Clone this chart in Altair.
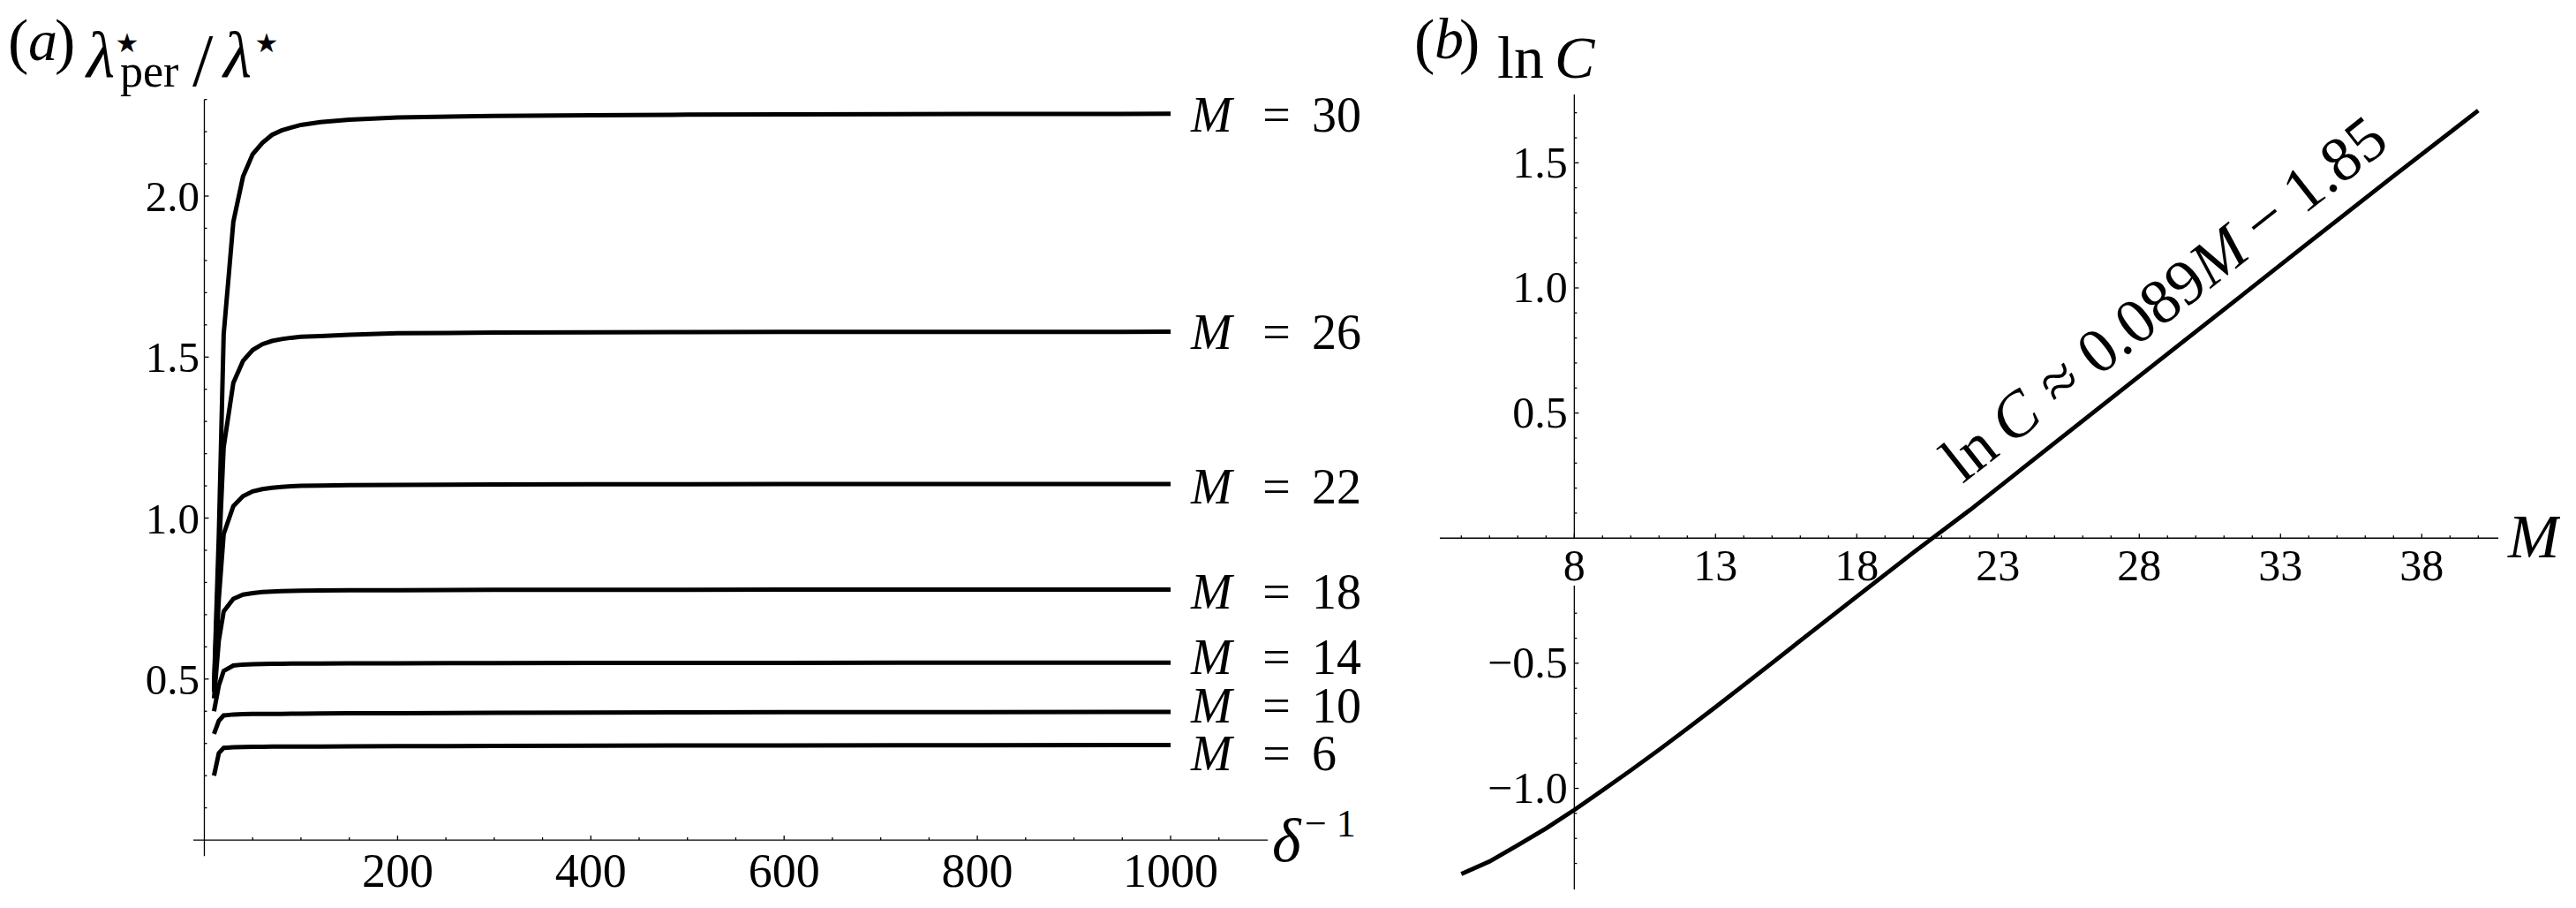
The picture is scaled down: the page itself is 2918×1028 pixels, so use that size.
import altair as alt
import pandas as pd

FONT = "Liberation Serif"
STAR_FONT = "DejaVu Sans"

# ---------------- panel (a): lambda*_per / lambda* versus 1/delta ----------------
DELTA_INV = [10, 15, 20, 30, 40, 50, 60, 70, 80, 90, 100, 120, 150, 200, 300, 400, 500, 600, 800, 1000]
RATIO_M6 = [0.20, 0.27, 0.286, 0.288, 0.289, 0.2893, 0.2896, 0.290, 0.290, 0.290, 0.2902, 0.2905, 0.291, 0.2915,
            0.292, 0.293, 0.2935, 0.294, 0.2945, 0.295]
RATIO_M10 = [0.33, 0.37, 0.387, 0.390, 0.391, 0.3915, 0.392, 0.392, 0.392, 0.3922, 0.3925, 0.393, 0.3935, 0.394,
             0.395, 0.396, 0.3965, 0.397, 0.3975, 0.398]
RATIO_M14 = [0.40, 0.48, 0.525, 0.542, 0.545, 0.546, 0.547, 0.5472, 0.5475, 0.5478, 0.548, 0.5482, 0.5485, 0.549,
             0.5495, 0.550, 0.5503, 0.5505, 0.551, 0.551]
RATIO_M18 = [0.44, 0.62, 0.71, 0.749, 0.762, 0.767, 0.770, 0.772, 0.773, 0.774, 0.7745, 0.775, 0.7755, 0.776,
             0.777, 0.7775, 0.7775, 0.778, 0.778, 0.778]
RATIO_M22 = [0.46, 0.75, 0.95, 1.037, 1.068, 1.083, 1.090, 1.094, 1.097, 1.099, 1.100, 1.101, 1.102, 1.103,
             1.104, 1.105, 1.105, 1.1055, 1.106, 1.106]
RATIO_M26 = [0.47, 0.88, 1.22, 1.42, 1.488, 1.522, 1.540, 1.550, 1.556, 1.560, 1.563, 1.565, 1.569, 1.574,
             1.576, 1.577, 1.5775, 1.578, 1.5784, 1.5786]
RATIO_M30 = [0.48, 0.95, 1.57, 1.92, 2.06, 2.13, 2.165, 2.19, 2.204, 2.213, 2.221, 2.230, 2.237, 2.244,
             2.249, 2.251, 2.253, 2.254, 2.255, 2.2555]
CURVE_M = [6, 10, 14, 18, 22, 26, 30]
CURVES = [RATIO_M6, RATIO_M10, RATIO_M14, RATIO_M18, RATIO_M22, RATIO_M26, RATIO_M30]
LABEL_Y = [0.2675, 0.417, 0.567, 0.771, 1.095, 1.575, 2.252]
LABEL_AT_X = 1000

A_XTICK_MAJOR = [200, 400, 600, 800, 1000]
A_XTICK_LABELS = ["200", "400", "600", "800", "1000"]
A_XTICK_MINOR = [50, 100, 150, 250, 300, 350, 450, 500, 550, 650, 700, 750, 850, 900, 950, 1050]
A_YTICK_MAJOR = [0.5, 1.0, 1.5, 2.0]
A_YTICK_LABELS = ["0.5", "1.0", "1.5", "2.0"]
A_YTICK_MINOR = [0.1, 0.2, 0.3, 0.4, 0.6, 0.7, 0.8, 0.9, 1.1, 1.2, 1.3, 1.4, 1.6, 1.7, 1.8, 1.9, 2.1, 2.2, 2.3]
A_XAXIS = [-11.4, 1100.5]
A_YAXIS = [-0.05, 2.30]
A_XDOMAIN = [-11.4, 1100.5]
A_YDOMAIN = [-0.052, 2.3155]

# ---------------- panel (b): ln C versus M ----------------
M_B = [4, 5, 6, 7, 8, 9, 10, 11, 12, 13, 14, 15, 16, 18, 20, 22, 25, 28, 31, 34, 37, 40]
LNC = [-1.342, -1.292, -1.227, -1.160, -1.086, -1.008, -0.928, -0.846, -0.761, -0.675, -0.587, -0.499,
       -0.410, -0.233, -0.058, 0.112, 0.380, 0.647, 0.914, 1.181, 1.447, 1.709]
FIT_SLOPE = 0.089
FIT_INTERCEPT = -1.85
FIT_LABEL_AT_M = 22.3

B_XTICK_MAJOR = [8, 13, 18, 23, 28, 33, 38]
B_XTICK_LABELS = ["8", "13", "18", "23", "28", "33", "38"]
B_XTICK_MINOR = [4, 5, 6, 7, 9, 10, 11, 12, 14, 15, 16, 17, 19, 20, 21, 22, 24, 25, 26, 27, 29, 30, 31, 32,
                 34, 35, 36, 37, 39, 40]
B_YTICK_MAJOR = [-1.0, -0.5, 0.5, 1.0, 1.5]
B_YTICK_LABELS = ["\u22121.0", "\u22120.5", "0.5", "1.0", "1.5"]
B_YTICK_MINOR = [-1.3, -1.2, -1.1, -0.9, -0.8, -0.7, -0.6, -0.4, -0.3, 0.1, 0.2, 0.3, 0.4, 0.6, 0.7, 0.8,
                 0.9, 1.1, 1.2, 1.3, 1.4, 1.6, 1.7]
B_XAXIS = [3.24, 40.71]
B_YAXIS_UPPER = [0.0, 1.773]
B_YAXIS_LOWER = [-1.404, -0.19]
B_XDOMAIN = [3.24, 40.71]
B_YDOMAIN = [-1.404, 1.773]

AXIS_W = 1.3
MAJOR_LEN = 5
MINOR_LEN = 3


def enc_x(field, xs):
    return alt.X(field, type="quantitative", scale=xs, axis=None)


def enc_y(field, ys):
    return alt.Y(field, type="quantitative", scale=ys, axis=None)


def hrule(x1, x2, yv, xs, ys):
    df = pd.DataFrame({"x": [x1], "x2": [x2], "y": [yv]})
    return alt.Chart(df).mark_rule(color="black", strokeWidth=AXIS_W).encode(
        x=enc_x("x", xs), x2="x2", y=enc_y("y", ys))


def vrule(xv, y1, y2, xs, ys):
    df = pd.DataFrame({"x": [xv], "y": [y1], "y2": [y2]})
    return alt.Chart(df).mark_rule(color="black", strokeWidth=AXIS_W).encode(
        x=enc_x("x", xs), y=enc_y("y", ys), y2="y2")


def xticks(vals, length, y0, xs, ys):
    df = pd.DataFrame({"t": vals, "z": [y0] * len(vals)})
    return alt.Chart(df).mark_rule(color="black", strokeWidth=AXIS_W, y2Offset=-length).encode(
        x=enc_x("t", xs), y=enc_y("z", ys), y2="z")


def yticks(vals, length, x0, xs, ys):
    df = pd.DataFrame({"t": vals, "z": [x0] * len(vals)})
    return alt.Chart(df).mark_rule(color="black", strokeWidth=AXIS_W, x2Offset=length).encode(
        y=enc_y("t", ys), x=enc_x("z", xs), x2="z")


def texts(xvals, yvals, labels, xs, ys, size, align="left", dx=0, dy=0, italic=False,
          font=FONT, angle=0):
    df = pd.DataFrame({"x": xvals, "y": yvals, "t": labels})
    props = dict(font=font, fontSize=size, align=align, baseline="alphabetic", dx=dx, dy=dy,
                 color="black")
    if italic:
        props["fontStyle"] = "italic"
    if angle:
        props["angle"] = angle
    return alt.Chart(df).mark_text(**props).encode(
        x=enc_x("x", xs), y=enc_y("y", ys), text="t:N")


# ---------------- build panel (a) ----------------
xsA = alt.Scale(domain=A_XDOMAIN, nice=False, zero=False)
ysA = alt.Scale(domain=A_YDOMAIN, nice=False, zero=False)

rows = []
for m, vals in zip(CURVE_M, CURVES):
    for xv, v in zip(DELTA_INV, vals):
        rows.append({"x": xv, "y": v, "M": m})
curve_df = pd.DataFrame(rows)

curvesA = alt.Chart(curve_df).mark_line(color="black", strokeWidth=5).encode(
    x=enc_x("x", xsA), y=enc_y("y", ysA), detail="M:N")

nA = len(CURVE_M)
layersA = [
    hrule(A_XAXIS[0], A_XAXIS[1], 0.0, xsA, ysA),
    vrule(0.0, A_YAXIS[0], A_YAXIS[1], xsA, ysA),
    xticks(A_XTICK_MAJOR, MAJOR_LEN, 0.0, xsA, ysA),
    xticks(A_XTICK_MINOR, MINOR_LEN, 0.0, xsA, ysA),
    yticks(A_YTICK_MAJOR, MAJOR_LEN, 0.0, xsA, ysA),
    yticks(A_YTICK_MINOR, MINOR_LEN, 0.0, xsA, ysA),
    curvesA,
    texts(A_XTICK_MAJOR, [0.0] * 5, A_XTICK_LABELS, xsA, ysA, 54, align="center", dy=53),
    texts([0.0] * 4, A_YTICK_MAJOR, A_YTICK_LABELS, xsA, ysA, 49, align="right", dx=-5.5, dy=17),
    # curve labels  "M = n"
    texts([LABEL_AT_X] * nA, LABEL_Y, ["M"] * nA, xsA, ysA, 56, dx=23, dy=18.5, italic=True),
    texts([LABEL_AT_X] * nA, LABEL_Y, ["="] * nA, xsA, ysA, 56, align="center", dx=120, dy=18.5),
    texts([LABEL_AT_X] * nA, LABEL_Y, [str(m) for m in CURVE_M], xsA, ysA, 56, dx=160, dy=18.5),
    # x-axis name  delta^-1
    texts([A_XAXIS[1]], [0.0], ["\u03b4"], xsA, ysA, 70, dx=5, dy=24, italic=True),
    texts([A_XAXIS[1]], [0.0], ["\u2212 1"], xsA, ysA, 44, dx=42, dy=-4),
    # panel tag (a) and y-axis name  lambda*_per / lambda*
    texts([0.0], [2.30], ["("], xsA, ysA, 70, dx=-222.5, dy=-42.7),
    texts([0.0], [2.30], ["a"], xsA, ysA, 66, dx=-199.5, dy=-44.7, italic=True),
    texts([0.0], [2.30], [")"], xsA, ysA, 70, dx=-169.5, dy=-42.7),
    texts([0.0], [2.30], ["\u03bb"], xsA, ysA, 74, dx=-133.5, dy=-25.7, italic=True),
    texts([0.0], [2.30], ["\u2605"], xsA, ysA, 30, align="center", dx=-87.5, dy=-53.7, font=STAR_FONT),
    texts([0.0], [2.30], ["per"], xsA, ysA, 52, dx=-95.5, dy=-14.7),
    texts([0.0], [2.30], ["/"], xsA, ysA, 84, dx=-13.5, dy=-15.7),
    texts([0.0], [2.30], ["\u03bb"], xsA, ysA, 74, dx=21.5, dy=-25.7, italic=True),
    texts([0.0], [2.30], ["\u2605"], xsA, ysA, 30, align="center", dx=70.5, dy=-53.7, font=STAR_FONT),
]
panelA = alt.layer(*layersA).properties(width=1217, height=863)

# ---------------- build panel (b) ----------------
xsB = alt.Scale(domain=B_XDOMAIN, nice=False, zero=False)
ysB = alt.Scale(domain=B_YDOMAIN, nice=False, zero=False)

lnc_df = pd.DataFrame({"M": M_B, "lnC": LNC})
curveB = alt.Chart(lnc_df).mark_line(color="black", strokeWidth=4.8).encode(
    x=enc_x("M", xsB), y=enc_y("lnC", ysB))

fit_y = FIT_SLOPE * FIT_LABEL_AT_M + FIT_INTERCEPT
ANG = 321.76
EQ = 72
nBx = len(B_XTICK_MAJOR)
nBy = len(B_YTICK_MAJOR)
layersB = [
    hrule(B_XAXIS[0], B_XAXIS[1], 0.0, xsB, ysB),
    vrule(8.0, B_YAXIS_UPPER[0], B_YAXIS_UPPER[1], xsB, ysB),
    vrule(8.0, B_YAXIS_LOWER[0], B_YAXIS_LOWER[1], xsB, ysB),
    xticks(B_XTICK_MAJOR, MAJOR_LEN, 0.0, xsB, ysB),
    xticks(B_XTICK_MINOR, MINOR_LEN, 0.0, xsB, ysB),
    yticks(B_YTICK_MAJOR, MAJOR_LEN, 8.0, xsB, ysB),
    yticks(B_YTICK_MINOR, MINOR_LEN, 8.0, xsB, ysB),
    curveB,
    texts(B_XTICK_MAJOR, [0.0] * nBx, B_XTICK_LABELS, xsB, ysB, 50, align="center", dy=47.5),
    texts([8.0] * nBy, B_YTICK_MAJOR, B_YTICK_LABELS, xsB, ysB, 50, align="right", dx=-7.5, dy=16.5),
    texts([B_XAXIS[1]], [0.0], ["M"], xsB, ysB, 70, dx=11, dy=22, italic=True),
    # panel tag (b) and y-axis name  ln C
    texts([8.0], [1.773], ["("], xsB, ysB, 70, dx=-181.3, dy=-37),
    texts([8.0], [1.773], ["b"], xsB, ysB, 66, dx=-158.3, dy=-41, italic=True),
    texts([8.0], [1.773], [")"], xsB, ysB, 70, dx=-130.3, dy=-37),
    texts([8.0], [1.773], ["ln"], xsB, ysB, 68, dx=-87.3, dy=-18.7),
    texts([8.0], [1.773], ["C"], xsB, ysB, 68, dx=-22.3, dy=-18.7, italic=True),
    # fit annotation along the line
    texts([FIT_LABEL_AT_M], [fit_y], ["ln"], xsB, ysB, EQ, dx=0, dy=-29, angle=ANG),
    texts([FIT_LABEL_AT_M], [fit_y], ["C"], xsB, ysB, EQ, dx=0.978 * EQ, dy=-29, angle=ANG, italic=True),
    texts([FIT_LABEL_AT_M], [fit_y], ["\u2248 0.089"], xsB, ysB, EQ, dx=1.925 * EQ, dy=-29, angle=ANG),
    texts([FIT_LABEL_AT_M], [fit_y], ["M"], xsB, ysB, EQ, dx=4.974 * EQ, dy=-29, angle=ANG, italic=True),
    texts([FIT_LABEL_AT_M], [fit_y], ["\u2212 1.85"], xsB, ysB, EQ, dx=6.027 * EQ, dy=-29, angle=ANG),
]
panelB = alt.layer(*layersB).properties(width=1199, height=900)

chart = alt.hconcat(panelA, panelB, spacing=195, bounds="flush").properties(
    padding={"left": 0, "top": 5, "right": 0, "bottom": 0},
    background="white",
).configure_view(stroke=None)

chart.save("out.html", embed_options={"renderer": "svg", "actions": False})
